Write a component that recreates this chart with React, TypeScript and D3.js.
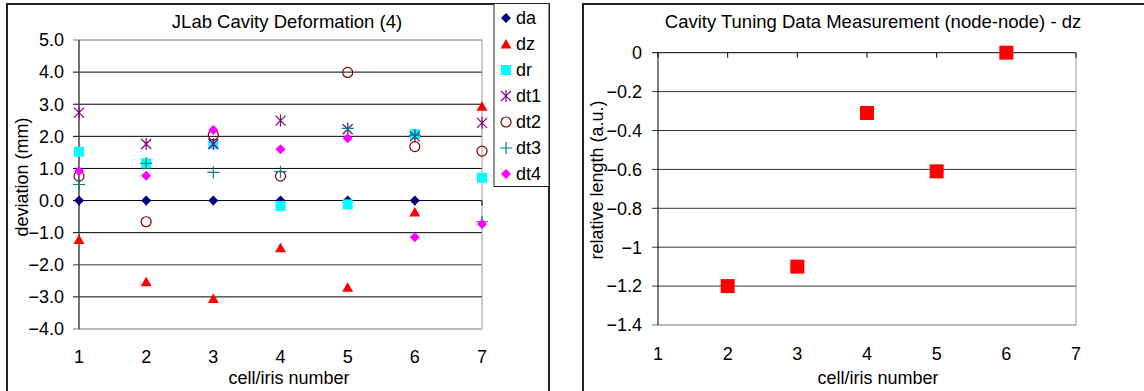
import React from "react";
import * as d3 from "d3";

const cells = [1, 2, 3, 4, 5, 6, 7];
const da = [0, 0, 0, 0, 0, 0, null];
const dz = [-1.21, -2.53, -3.05, -1.47, -2.7, -0.36, 2.94];
const dr = [1.52, 1.16, 1.76, -0.17, -0.12, 2.07, 0.71];
const dt1 = [2.74, 1.76, 1.76, 2.49, 2.22, 2.0, 2.42];
const dt2 = [0.76, -0.66, 2.04, 0.76, 3.99, 1.68, 1.54];
const dt3 = [0.5, 1.16, 0.88, 0.9, 2.25, 2.04, -0.66];
const dt4 = [0.92, 0.77, 2.2, 1.6, 1.94, -1.14, -0.73];
const leftYTicks = [5, 4, 3, 2, 1, 0, -1, -2, -3, -4];

const tuneCells = [2, 3, 4, 5, 6];
const tuneDz = [-1.2, -1.1, -0.31, -0.61, 0.0];
const rightYTicks = [0, -0.2, -0.4, -0.6, -0.8, -1, -1.2, -1.4];

const FONT = "'Liberation Sans', Arial, sans-serif";
const FS = 18;
const TFS = 18.5;

type Shape = "diamond" | "triangle" | "square" | "asterisk" | "circle" | "plus";

function Marker({ shape, x, y, color }: { shape: Shape; x: number; y: number; color: string }) {
  const s = 5;
  switch (shape) {
    case "diamond":
      return <path d={`M${x},${y - s}L${x + s},${y}L${x},${y + s}L${x - s},${y}Z`} fill={color} />;
    case "triangle":
      return <path d={`M${x},${y - 5}L${x + 5.5},${y + 4.5}L${x - 5.5},${y + 4.5}Z`} fill={color} />;
    case "square":
      return <rect x={x - 5} y={y - 5} width={10} height={10} fill={color} />;
    case "asterisk":
      return (
        <path
          d={`M${x - 5},${y - 5}L${x + 5},${y + 5}M${x - 5},${y + 5}L${x + 5},${y - 5}M${x},${y - 6}L${x},${y + 6}`}
          stroke={color}
          strokeWidth={1.2}
          fill="none"
        />
      );
    case "circle":
      return <circle cx={x} cy={y} r={5} fill="none" stroke={color} strokeWidth={1.2} />;
    case "plus":
      return (
        <path
          d={`M${x - 6},${y}L${x + 6},${y}M${x},${y - 6}L${x},${y + 6}`}
          stroke={color}
          strokeWidth={1.2}
          fill="none"
        />
      );
  }
  return null;
}

const seriesDefs: { name: string; data: (number | null)[]; shape: Shape; color: string }[] = [
  { name: "da", data: da, shape: "diamond", color: "#000080" },
  { name: "dz", data: dz, shape: "triangle", color: "#ff0000" },
  { name: "dr", data: dr, shape: "square", color: "#00ffff" },
  { name: "dt1", data: dt1, shape: "asterisk", color: "#800080" },
  { name: "dt2", data: dt2, shape: "circle", color: "#800000" },
  { name: "dt3", data: dt3, shape: "plus", color: "#008080" },
  { name: "dt4", data: dt4, shape: "diamond", color: "#ff00ff" },
];

export default function App() {
  const xL = d3.scaleLinear().domain([1, 7]).range([79, 482]);
  const yL = d3.scaleLinear().domain([-4, 5]).range([329, 40]);
  const xR = d3.scaleLinear().domain([1, 7]).range([658, 1076]);
  const yR = d3.scaleLinear().domain([-1.4, 0]).range([325, 52.7]);

  return (
    <div style={{ position: "absolute", left: 0, top: 0 }}>
      <svg width={1144} height={391} style={{ display: "block", fontFamily: FONT }}>
        <rect x={0} y={0} width={1144} height={391} fill="#fff" />
        {/* LEFT CHART */}
        <rect x={7} y={4} width={542} height={400} fill="#fff" stroke="#222" strokeWidth={2} />
        <text x={287} y={27.5} fontSize={TFS} textAnchor="middle" fill="#000">
          JLab Cavity Deformation (4)
        </text>
        {leftYTicks.map((t) => (
          <line
            key={t}
            x1={73}
            x2={482}
            y1={yL(t)}
            y2={yL(t)}
            stroke={t === -2 || t === -4 || t === 5 ? "#777" : "#000"}
            strokeWidth={t === -2 ? 1.5 : 1}
          />
        ))}
        <line x1={482} x2={482} y1={40} y2={329} stroke="#999" strokeWidth={1} />
        <line x1={79} x2={79} y1={40} y2={329} stroke="#444" strokeWidth={1.5} />
        {cells.map((c) => (
          <line key={c} x1={xL(c)} x2={xL(c)} y1={yL(0)} y2={yL(0) + 5} stroke="#000" />
        ))}
        {leftYTicks.map((t) => (
          <text key={t} x={64} y={yL(t)} dy="0.35em" fontSize={FS} textAnchor="end" fill="#000">
            {d3.format(".1f")(t)}
          </text>
        ))}
        {cells.map((c) => (
          <text key={c} x={xL(c)} y={362.5} fontSize={FS} textAnchor="middle" fill="#000">
            {c}
          </text>
        ))}
        <text x={289} y={383.5} fontSize={FS} textAnchor="middle" fill="#000">
          cell/iris number
        </text>
        <text transform={`translate(28,177) rotate(-90)`} fontSize={FS} textAnchor="middle" fill="#000">
          deviation (mm)
        </text>
        {seriesDefs.map((s) =>
          s.data.map((v, i) =>
            v === null ? null : (
              <Marker key={s.name + i} shape={s.shape} x={xL(cells[i])} y={yL(v)} color={s.color} />
            )
          )
        )}
        {/* legend */}
        <rect x={494} y={3.5} width={55} height={183} fill="#fff" stroke="#222" strokeWidth={1} />
        {seriesDefs.map((s, i) => (
          <g key={s.name}>
            <Marker shape={s.shape} x={506} y={18 + i * 26} color={s.color} />
            <text x={516} y={18 + i * 26} dy="0.35em" fontSize={FS} fill="#000">
              {s.name}
            </text>
          </g>
        ))}

        {/* RIGHT CHART */}
        <rect x={583} y={4} width={600} height={400} fill="#fff" stroke="#222" strokeWidth={2} />
        <text x={873} y={27.5} fontSize={TFS} textAnchor="middle" fill="#000">
          Cavity Tuning Data Measurement (node-node) - dz
        </text>
        {rightYTicks.map((t) => (
          <line
            key={t}
            x1={652}
            x2={1076}
            y1={yR(t)}
            y2={yR(t)}
            stroke={t === 0 ? "#000" : t === -1.4 ? "#777" : "#333"}
            strokeWidth={1}
          />
        ))}
        <line x1={1076} x2={1076} y1={52.7} y2={325} stroke="#999" strokeWidth={1} />
        <line x1={658} x2={658} y1={52.7} y2={325} stroke="#000" strokeWidth={1} />
        {cells.map((c) => (
          <line key={c} x1={xR(c)} x2={xR(c)} y1={yR(0)} y2={yR(0) + 5} stroke="#000" />
        ))}
        {rightYTicks.map((t) => (
          <text key={t} x={642} y={yR(t)} dy="0.35em" fontSize={FS} textAnchor="end" fill="#000">
            {d3.format("")(t)}
          </text>
        ))}
        {cells.map((c) => (
          <text key={c} x={xR(c)} y={359.5} fontSize={FS} textAnchor="middle" fill="#000">
            {c}
          </text>
        ))}
        <text x={878} y={383.5} fontSize={FS} textAnchor="middle" fill="#000">
          cell/iris number
        </text>
        <text transform={`translate(603,180) rotate(-90)`} fontSize={FS} textAnchor="middle" fill="#000">
          relative length (a.u.)
        </text>
        {tuneDz.map((v, i) => (
          <rect key={i} x={xR(tuneCells[i]) - 7} y={yR(v) - 7} width={14} height={14} fill="#ff0000" />
        ))}
      </svg>
    </div>
  );
}
